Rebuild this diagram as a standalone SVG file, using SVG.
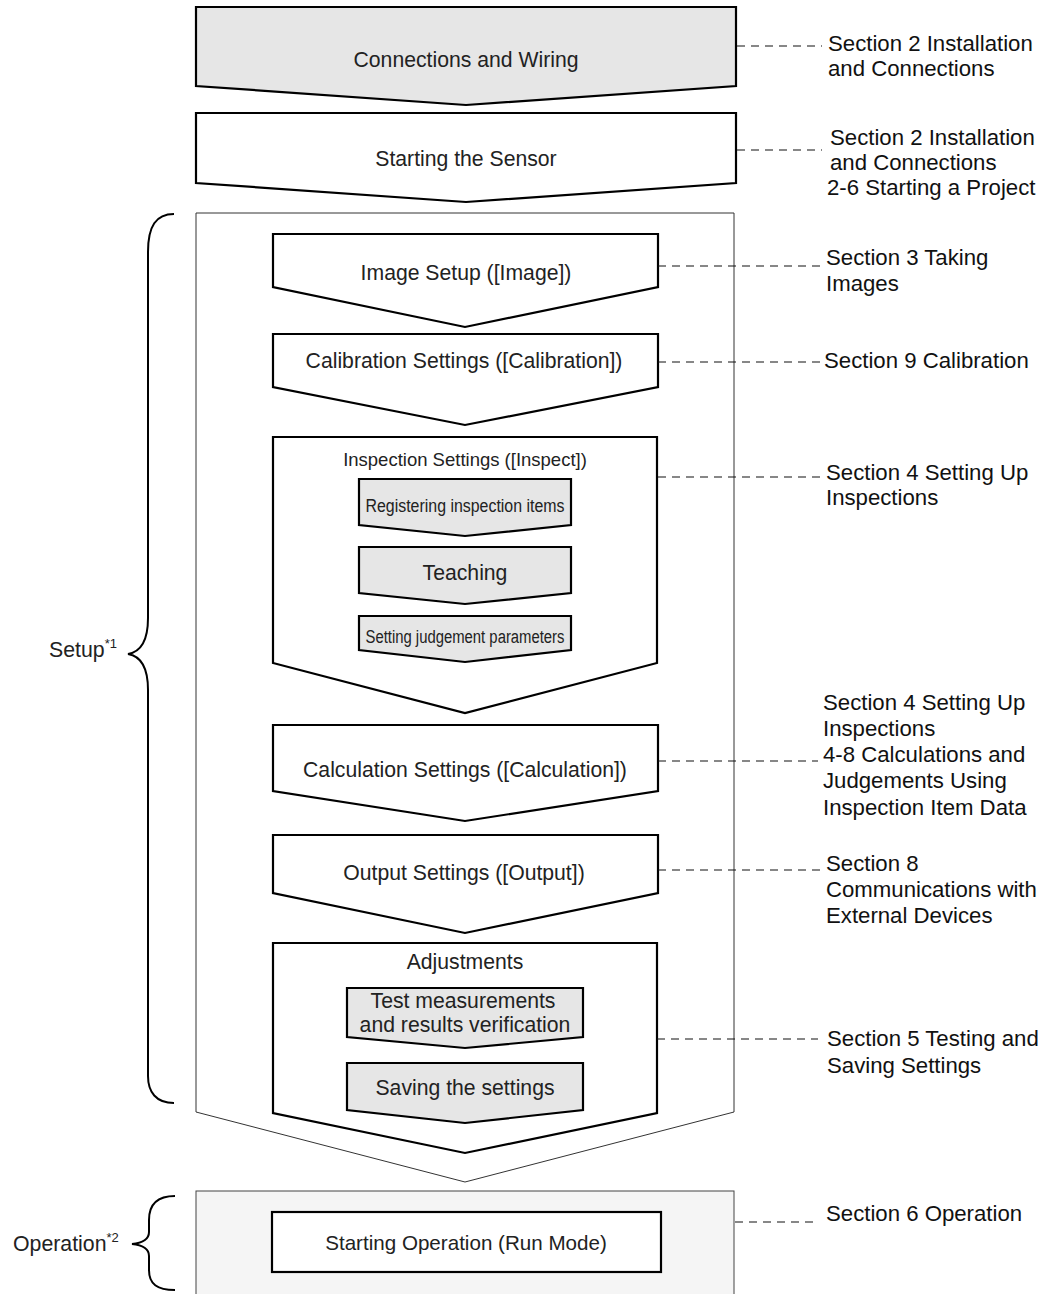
<svg xmlns="http://www.w3.org/2000/svg" width="1049" height="1294" viewBox="0 0 1049 1294">
<style>
.box{fill:#ffffff;stroke:#000;stroke-width:2.2;stroke-linejoin:miter}
.gbox{fill:#e6e6e6;stroke:#000;stroke-width:2.2}
.outer{fill:#ffffff;stroke:#333;stroke-width:1}
.opbox{fill:#f5f5f5;stroke:#444;stroke-width:1}
.bt{font-family:"Liberation Sans",Arial,sans-serif;font-size:21.2px;fill:#222;text-anchor:middle}
.st{font-family:"Liberation Sans",Arial,sans-serif;font-size:18px;fill:#222;text-anchor:middle}
.lbl{font-family:"Liberation Sans",Arial,sans-serif;font-size:22.2px;fill:#111}
.side{font-family:"Liberation Sans",Arial,sans-serif;font-size:21.3px;fill:#222}
.sup{font-size:13px}
.dash{fill:none;stroke:#111;stroke-width:1.1;stroke-dasharray:8 6}
.brace{fill:none;stroke:#000;stroke-width:2}
</style>

<g id="setup-container">
<polygon class="outer" points="196,213 734,213 734,1112 465,1182 196,1112"/>
</g>

<g id="operation-container">
<rect class="opbox" x="196" y="1191" width="538" height="110"/>
</g>

<g id="connections-wiring">
<polygon class="gbox" points="196,7 736,7 736,86 466,105 196,86"/>
<text class="bt" x="466" y="67">Connections and Wiring</text>
</g>

<g id="starting-sensor">
<polygon class="box" points="196,113 736,113 736,183 466,202 196,183"/>
<text class="bt" x="466" y="166">Starting the Sensor</text>
</g>

<g id="image-setup">
<polygon class="box" points="273,234 658,234 658,287 465,327 273,287"/>
<text class="bt" x="466" y="280">Image Setup ([Image])</text>
</g>

<g id="calibration">
<polygon class="box" points="273,334 658,334 658,387 465,425 273,387"/>
<text class="bt" x="464" y="368">Calibration Settings ([Calibration])</text>
</g>

<g id="inspection">
<polygon class="box" points="273,437 657,437 657,663 465,713 273,663"/>
<text class="st" x="465" y="466" style="font-size:18.5px">Inspection Settings ([Inspect])</text>
</g>

<g id="registering">
<polygon class="gbox" points="359,479 571,479 571,525 465,536 359,525"/>
<text class="st" x="465" y="512" textLength="199" lengthAdjust="spacingAndGlyphs">Registering inspection items</text>
</g>

<g id="teaching">
<polygon class="gbox" points="359,547 571,547 571,593 465,604 359,593"/>
<text class="bt" x="465" y="580">Teaching</text>
</g>

<g id="judgement">
<polygon class="gbox" points="359,616 571,616 571,650 465,662 359,650"/>
<text class="st" x="465" y="643" textLength="199" lengthAdjust="spacingAndGlyphs">Setting judgement parameters</text>
</g>

<g id="calculation">
<polygon class="box" points="273,725 658,725 658,791 465,821 273,791"/>
<text class="bt" x="465" y="777">Calculation Settings ([Calculation])</text>
</g>

<g id="output">
<polygon class="box" points="273,835 658,835 658,893 465,933 273,893"/>
<text class="bt" x="464" y="880">Output Settings ([Output])</text>
</g>

<g id="adjustments">
<polygon class="box" points="273,943 657,943 657,1113 465,1153 273,1113"/>
<text class="bt" x="465" y="969">Adjustments</text>
</g>

<g id="test-measurements">
<polygon class="gbox" points="347,988 583,988 583,1037 465,1048 347,1037"/>
<text class="bt" x="463" y="1008">Test measurements</text>
<text class="bt" x="465" y="1032">and results verification</text>
</g>

<g id="saving">
<polygon class="gbox" points="347,1063 583,1063 583,1110 465,1123 347,1110"/>
<text class="bt" x="465" y="1095">Saving the settings</text>
</g>

<g id="starting-operation">
<rect class="box" x="272" y="1212" width="389" height="60"/>
<text class="bt" x="466" y="1250" style="font-size:20.6px">Starting Operation (Run Mode)</text>
</g>

<g id="setup-label">
<path class="brace" d="M174,214 C156,214 148,226 148,252 L148,618 C148,642 140,652 128,654 C140,656 148,666 148,690 L148,1076 C148,1092 156,1103 174,1103"/>
<text class="side" x="49" y="657">Setup<tspan class="sup" dy="-9">*1</tspan></text>
</g>

<g id="operation-label">
<path class="brace" d="M175,1196 C157,1196 149,1204 149,1220 L149,1232 C149,1240 142,1243 132,1244 C142,1245 149,1248 149,1256 L149,1270 C149,1284 157,1290 175,1290"/>
<text class="side" x="13" y="1251">Operation<tspan class="sup" dy="-9">*2</tspan></text>
</g>

<g id="connectors">
<line class="dash" x1="737" y1="46" x2="822" y2="46"/>
<line class="dash" x1="737" y1="150" x2="822" y2="150"/>
<line class="dash" x1="658" y1="266" x2="820" y2="266"/>
<line class="dash" x1="658" y1="362" x2="822" y2="362"/>
<line class="dash" x1="658" y1="477" x2="820" y2="477"/>
<line class="dash" x1="658" y1="761" x2="818" y2="761"/>
<line class="dash" x1="658" y1="870" x2="820" y2="870"/>
<line class="dash" x1="657" y1="1039" x2="818" y2="1039"/>
<line class="dash" x1="735" y1="1222" x2="818" y2="1222"/>
</g>

<g id="references">
<text class="lbl" x="828" y="51">Section 2 Installation</text>
<text class="lbl" x="828" y="76">and Connections</text>
<text class="lbl" x="830" y="145">Section 2 Installation</text>
<text class="lbl" x="830" y="170">and Connections</text>
<text class="lbl" x="827" y="195">2-6 Starting a Project</text>
<text class="lbl" x="826" y="265">Section 3 Taking</text>
<text class="lbl" x="826" y="291">Images</text>
<text class="lbl" x="824" y="368">Section 9 Calibration</text>
<text class="lbl" x="826" y="480">Section 4 Setting Up</text>
<text class="lbl" x="826" y="505">Inspections</text>
<text class="lbl" x="823" y="710">Section 4 Setting Up</text>
<text class="lbl" x="823" y="736">Inspections</text>
<text class="lbl" x="823" y="762">4-8 Calculations and</text>
<text class="lbl" x="823" y="788">Judgements Using</text>
<text class="lbl" x="823" y="815">Inspection Item Data</text>
<text class="lbl" x="826" y="871">Section 8</text>
<text class="lbl" x="826" y="897">Communications with</text>
<text class="lbl" x="826" y="923">External Devices</text>
<text class="lbl" x="827" y="1046">Section 5 Testing and</text>
<text class="lbl" x="827" y="1073">Saving Settings</text>
<text class="lbl" x="826" y="1221">Section 6 Operation</text>
</g>
</svg>
